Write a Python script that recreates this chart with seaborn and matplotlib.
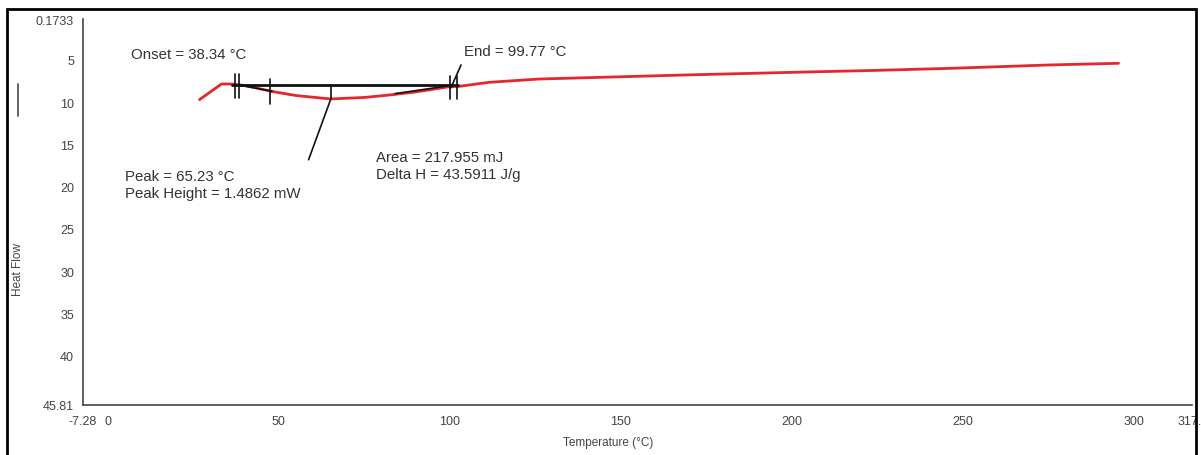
import matplotlib
matplotlib.use("Agg")
import matplotlib.pyplot as plt
import seaborn as sns
import pandas as pd
from matplotlib.patches import Rectangle
from matplotlib.lines import Line2D
from matplotlib.transforms import ScaledTranslation

# ---- data ----
temperature = [26.8, 33.2, 36.4, 40.5, 47.7, 55.0, 65.2, 75.0, 82.3, 90.0,
               99.8, 102.8, 111.5, 126.1, 169.0, 202.1, 223.5, 247.0, 275.2, 295.6]
heat_flow = [9.71, 7.86, 7.86, 8.06, 8.72, 9.22, 9.63, 9.45, 9.16, 8.80,
             8.18, 8.13, 7.66, 7.27, 6.79, 6.46, 6.26, 6.00, 5.61, 5.41]

x_ticks = [-7.28, 0, 50, 100, 150, 200, 250, 300, 317.09]
x_tick_labels = ["-7.28", "0", "50", "100", "150", "200", "250", "300", "317."]
y_ticks = [0.1733, 5, 10, 15, 20, 25, 30, 35, 40, 45.81]
y_tick_labels = ["0.1733", "5", "10", "15", "20", "25", "30", "35", "40", "45.81"]

baseline_T = [36.4, 102.5]
baseline_Y = [8.0, 8.0]
tangent_left_T = [38.0, 48.0]
tangent_left_Y = [7.97, 8.70]
tangent_right_T = [84.0, 100.0]
tangent_right_Y = [9.00, 8.05]
onset_marks_T = [37.1, 38.3]
end_marks_T = [100.1, 102.2]

annotations = [
    ("Onset = 38.34 °C", 6.8, 4.31),
    ("End = 99.77 °C", 104.2, 3.92),
    ("Peak = 65.23 °C", 4.9, 18.73),
    ("Peak Height = 1.4862 mW", 4.9, 20.74),
    ("Area = 217.955 mJ", 78.5, 16.49),
    ("Delta H = 43.5911 J/g", 78.5, 18.50),
]

df = pd.DataFrame({"Temperature": temperature, "Heat Flow": heat_flow})

sns.set_style("white")
plt.rcParams["font.family"] = ["Liberation Sans", "DejaVu Sans"]

W, H = 1201, 456
fig = plt.figure(figsize=(W / 100, H / 100), dpi=100)
left, right, top, bottom = 83, 1192, 20, 406
ax = fig.add_axes([left / W, 1 - bottom / H, (right - left) / W, (bottom - top) / H])

sns.lineplot(data=df, x="Temperature", y="Heat Flow", ax=ax, color="#e5262e",
             linewidth=2.0, sort=False, estimator=None)

blk = dict(color="#111111", linewidth=1.2)
ax.plot(baseline_T, baseline_Y, color="#111111", linewidth=2.0)
ax.plot(tangent_left_T, tangent_left_Y, **blk)
ax.plot(tangent_right_T, tangent_right_Y, **blk)
for t in onset_marks_T:
    ax.plot([t, t], [6.68, 9.51], **blk)
ax.plot([47.5, 47.5], [7.27, 10.22], **blk)
ax.plot([65.2, 65.2], [8.21, 9.63], **blk)
ax.plot([65.2, 58.7], [9.63, 16.81], **blk)
for t in end_marks_T:
    ax.plot([t, t], [6.88, 9.63], **blk)
ax.plot([100.3, 103.3], [8.33, 5.61], **blk)

for txt, tx, ty in annotations:
    ax.text(tx, ty, txt, fontsize=10.8, color="#333333", ha="left", va="center")

ax.set_xlim(-7.28, 317.09)
ax.set_ylim(45.81, 0.1733)
ax.set_xticks(x_ticks)
ax.set_xticklabels(x_tick_labels)
ax.set_yticks(y_ticks)
ax.set_yticklabels(y_tick_labels)
ax.set_yticks([45], minor=True)
ax.tick_params(axis="both", which="both", labelsize=9, labelcolor="#444444",
               color="#444444", direction="out", length=3, width=1)
ax.tick_params(axis="x", direction="inout", length=5, pad=5)

last = ax.get_xticklabels()[-1]
last.set_ha("left")
last.set_transform(last.get_transform() + ScaledTranslation(-14 / 100, 0, fig.dpi_scale_trans))

for s in ["top", "right"]:
    ax.spines[s].set_visible(False)
for s in ["left", "bottom"]:
    ax.spines[s].set_color("#444444")
    ax.spines[s].set_linewidth(1.2)

ax.set_xlabel("Temperature (°C)", fontsize=8.5, color="#444444")
ax.set_ylabel("Heat Flow", fontsize=8.5, color="#444444")
ax.xaxis.set_label_coords((608 - left) / (right - left), -(437 - bottom) / (bottom - top))
ax.yaxis.set_label_coords((24 - left) / (right - left), (bottom - 270) / (bottom - top))

fig.add_artist(Line2D([18.3 / W, 18.3 / W], [1 - 85 / H, 1 - 117 / H],
                      transform=fig.transFigure, color="#555555", linewidth=1.3))
fig.add_artist(Rectangle((7 / W, -0.02), (1196 - 7) / W, 1 - 10 / H + 0.02,
                         transform=fig.transFigure, fill=False,
                         edgecolor="black", linewidth=2, clip_on=False))

fig.savefig("out.png", dpi=100)
